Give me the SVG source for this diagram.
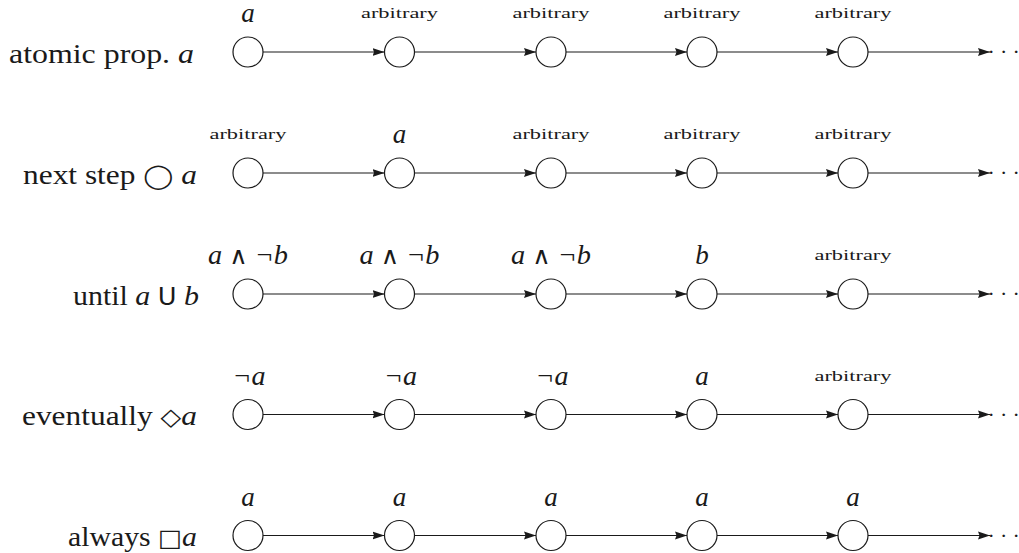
<svg xmlns="http://www.w3.org/2000/svg" width="1019" height="553" viewBox="0 0 1019 553">
<style>
.node{fill:#fff;stroke:#1a1a1a;stroke-width:1.2}
.edge{stroke:#1a1a1a;stroke-width:1.2;fill:none;marker-end:url(#ah)}
.row{font-family:"Liberation Serif",serif;font-size:28px;fill:#1a1a1a;text-anchor:end}
.big{font-family:"Liberation Serif",serif;font-size:27px;font-style:italic;fill:#1a1a1a;text-anchor:middle}
.small{font-family:"Liberation Serif",serif;font-size:14px;fill:#1a1a1a;text-anchor:middle}
.it{font-style:italic}
.sym{font-family:"DejaVu Sans",sans-serif;font-style:normal}
.dots{font-family:"Liberation Serif",serif;font-size:22px;fill:#1a1a1a}
</style>
<defs>
<marker id="ah" markerUnits="userSpaceOnUse" markerWidth="13" markerHeight="9" refX="12" refY="4.5" orient="auto">
<path d="M0,0.5 L12,4.5 L0,8.5 L1.5,4.5 Z" fill="#1a1a1a"/>
</marker>
</defs>

<g id="row-labels">
<text class="row" x="194" y="63" textLength="185" lengthAdjust="spacingAndGlyphs">atomic prop. <tspan class="it">a</tspan></text>
<text class="row" x="197" y="184" textLength="174" lengthAdjust="spacingAndGlyphs">next step <tspan class="sym" font-size="24">◯</tspan> <tspan class="it">a</tspan></text>
<text class="row" x="199" y="305" textLength="126" lengthAdjust="spacingAndGlyphs">until <tspan class="it">a</tspan> <tspan class="sym" font-size="24">U</tspan> <tspan class="it">b</tspan></text>
<text class="row" x="197" y="425" textLength="175" lengthAdjust="spacingAndGlyphs">eventually <tspan class="sym" font-size="24">◇</tspan><tspan class="it">a</tspan></text>
<text class="row" x="197" y="546" textLength="129" lengthAdjust="spacingAndGlyphs">always <tspan class="sym" font-size="24">□</tspan><tspan class="it">a</tspan></text>
</g>

<g id="connectors">
<line class="edge" x1="263" y1="52" x2="384.5" y2="52"/>
<line class="edge" x1="414.5" y1="52" x2="536" y2="52"/>
<line class="edge" x1="566" y1="52" x2="687" y2="52"/>
<line class="edge" x1="717" y1="52" x2="838" y2="52"/>
<line class="edge" x1="868" y1="52" x2="990" y2="52"/>

<line class="edge" x1="263" y1="173" x2="384.5" y2="173"/>
<line class="edge" x1="414.5" y1="173" x2="536" y2="173"/>
<line class="edge" x1="566" y1="173" x2="687" y2="173"/>
<line class="edge" x1="717" y1="173" x2="838" y2="173"/>
<line class="edge" x1="868" y1="173" x2="990" y2="173"/>

<line class="edge" x1="263" y1="294" x2="384.5" y2="294"/>
<line class="edge" x1="414.5" y1="294" x2="536" y2="294"/>
<line class="edge" x1="566" y1="294" x2="687" y2="294"/>
<line class="edge" x1="717" y1="294" x2="838" y2="294"/>
<line class="edge" x1="868" y1="294" x2="990" y2="294"/>

<line class="edge" x1="263" y1="414.5" x2="384.5" y2="414.5"/>
<line class="edge" x1="414.5" y1="414.5" x2="536" y2="414.5"/>
<line class="edge" x1="566" y1="414.5" x2="687" y2="414.5"/>
<line class="edge" x1="717" y1="414.5" x2="838" y2="414.5"/>
<line class="edge" x1="868" y1="414.5" x2="990" y2="414.5"/>

<line class="edge" x1="263" y1="535.5" x2="384.5" y2="535.5"/>
<line class="edge" x1="414.5" y1="535.5" x2="536" y2="535.5"/>
<line class="edge" x1="566" y1="535.5" x2="687" y2="535.5"/>
<line class="edge" x1="717" y1="535.5" x2="838" y2="535.5"/>
<line class="edge" x1="868" y1="535.5" x2="990" y2="535.5"/>
</g>

<g id="ellipses">
<text class="dots" x="987.5 1000 1012.5" y="59.3">···</text>
<text class="dots" x="987.5 1000 1012.5" y="180.3">···</text>
<text class="dots" x="987.5 1000 1012.5" y="301.3">···</text>
<text class="dots" x="987.5 1000 1012.5" y="421.8">···</text>
<text class="dots" x="987.5 1000 1012.5" y="542.8">···</text>
</g>

<g id="r1n1"><circle class="node" cx="248" cy="52" r="15"/><text class="big" x="248" y="22">a</text></g>
<g id="r1n2"><circle class="node" cx="399.5" cy="52" r="15"/><text class="small" x="399.5" y="18" textLength="77" lengthAdjust="spacingAndGlyphs">arbitrary</text></g>
<g id="r1n3"><circle class="node" cx="551" cy="52" r="15"/><text class="small" x="551" y="18" textLength="77" lengthAdjust="spacingAndGlyphs">arbitrary</text></g>
<g id="r1n4"><circle class="node" cx="702" cy="52" r="15"/><text class="small" x="702" y="18" textLength="77" lengthAdjust="spacingAndGlyphs">arbitrary</text></g>
<g id="r1n5"><circle class="node" cx="853" cy="52" r="15"/><text class="small" x="853" y="18" textLength="77" lengthAdjust="spacingAndGlyphs">arbitrary</text></g>

<g id="r2n1"><circle class="node" cx="248" cy="173" r="15"/><text class="small" x="248" y="139" textLength="77" lengthAdjust="spacingAndGlyphs">arbitrary</text></g>
<g id="r2n2"><circle class="node" cx="399.5" cy="173" r="15"/><text class="big" x="399.5" y="143">a</text></g>
<g id="r2n3"><circle class="node" cx="551" cy="173" r="15"/><text class="small" x="551" y="139" textLength="77" lengthAdjust="spacingAndGlyphs">arbitrary</text></g>
<g id="r2n4"><circle class="node" cx="702" cy="173" r="15"/><text class="small" x="702" y="139" textLength="77" lengthAdjust="spacingAndGlyphs">arbitrary</text></g>
<g id="r2n5"><circle class="node" cx="853" cy="173" r="15"/><text class="small" x="853" y="139" textLength="77" lengthAdjust="spacingAndGlyphs">arbitrary</text></g>

<g id="r3n1"><circle class="node" cx="248" cy="294" r="15"/><text class="big" x="248" y="264" textLength="80" lengthAdjust="spacingAndGlyphs">a <tspan class="sym" font-size="24">∧</tspan> ¬b</text></g>
<g id="r3n2"><circle class="node" cx="399.5" cy="294" r="15"/><text class="big" x="399.5" y="264" textLength="80" lengthAdjust="spacingAndGlyphs">a <tspan class="sym" font-size="24">∧</tspan> ¬b</text></g>
<g id="r3n3"><circle class="node" cx="551" cy="294" r="15"/><text class="big" x="551" y="264" textLength="80" lengthAdjust="spacingAndGlyphs">a <tspan class="sym" font-size="24">∧</tspan> ¬b</text></g>
<g id="r3n4"><circle class="node" cx="702" cy="294" r="15"/><text class="big" x="702" y="264">b</text></g>
<g id="r3n5"><circle class="node" cx="853" cy="294" r="15"/><text class="small" x="853" y="260" textLength="77" lengthAdjust="spacingAndGlyphs">arbitrary</text></g>

<g id="r4n1"><circle class="node" cx="248" cy="414.5" r="15"/><text class="big" x="249" y="384.5" textLength="33" lengthAdjust="spacingAndGlyphs">¬a</text></g>
<g id="r4n2"><circle class="node" cx="399.5" cy="414.5" r="15"/><text class="big" x="400.5" y="384.5" textLength="33" lengthAdjust="spacingAndGlyphs">¬a</text></g>
<g id="r4n3"><circle class="node" cx="551" cy="414.5" r="15"/><text class="big" x="552" y="384.5" textLength="33" lengthAdjust="spacingAndGlyphs">¬a</text></g>
<g id="r4n4"><circle class="node" cx="702" cy="414.5" r="15"/><text class="big" x="702" y="384.5">a</text></g>
<g id="r4n5"><circle class="node" cx="853" cy="414.5" r="15"/><text class="small" x="853" y="380.5" textLength="77" lengthAdjust="spacingAndGlyphs">arbitrary</text></g>

<g id="r5n1"><circle class="node" cx="248" cy="535.5" r="15"/><text class="big" x="248" y="505.5">a</text></g>
<g id="r5n2"><circle class="node" cx="399.5" cy="535.5" r="15"/><text class="big" x="399.5" y="505.5">a</text></g>
<g id="r5n3"><circle class="node" cx="551" cy="535.5" r="15"/><text class="big" x="551" y="505.5">a</text></g>
<g id="r5n4"><circle class="node" cx="702" cy="535.5" r="15"/><text class="big" x="702" y="505.5">a</text></g>
<g id="r5n5"><circle class="node" cx="853" cy="535.5" r="15"/><text class="big" x="853" y="505.5">a</text></g>
</svg>
